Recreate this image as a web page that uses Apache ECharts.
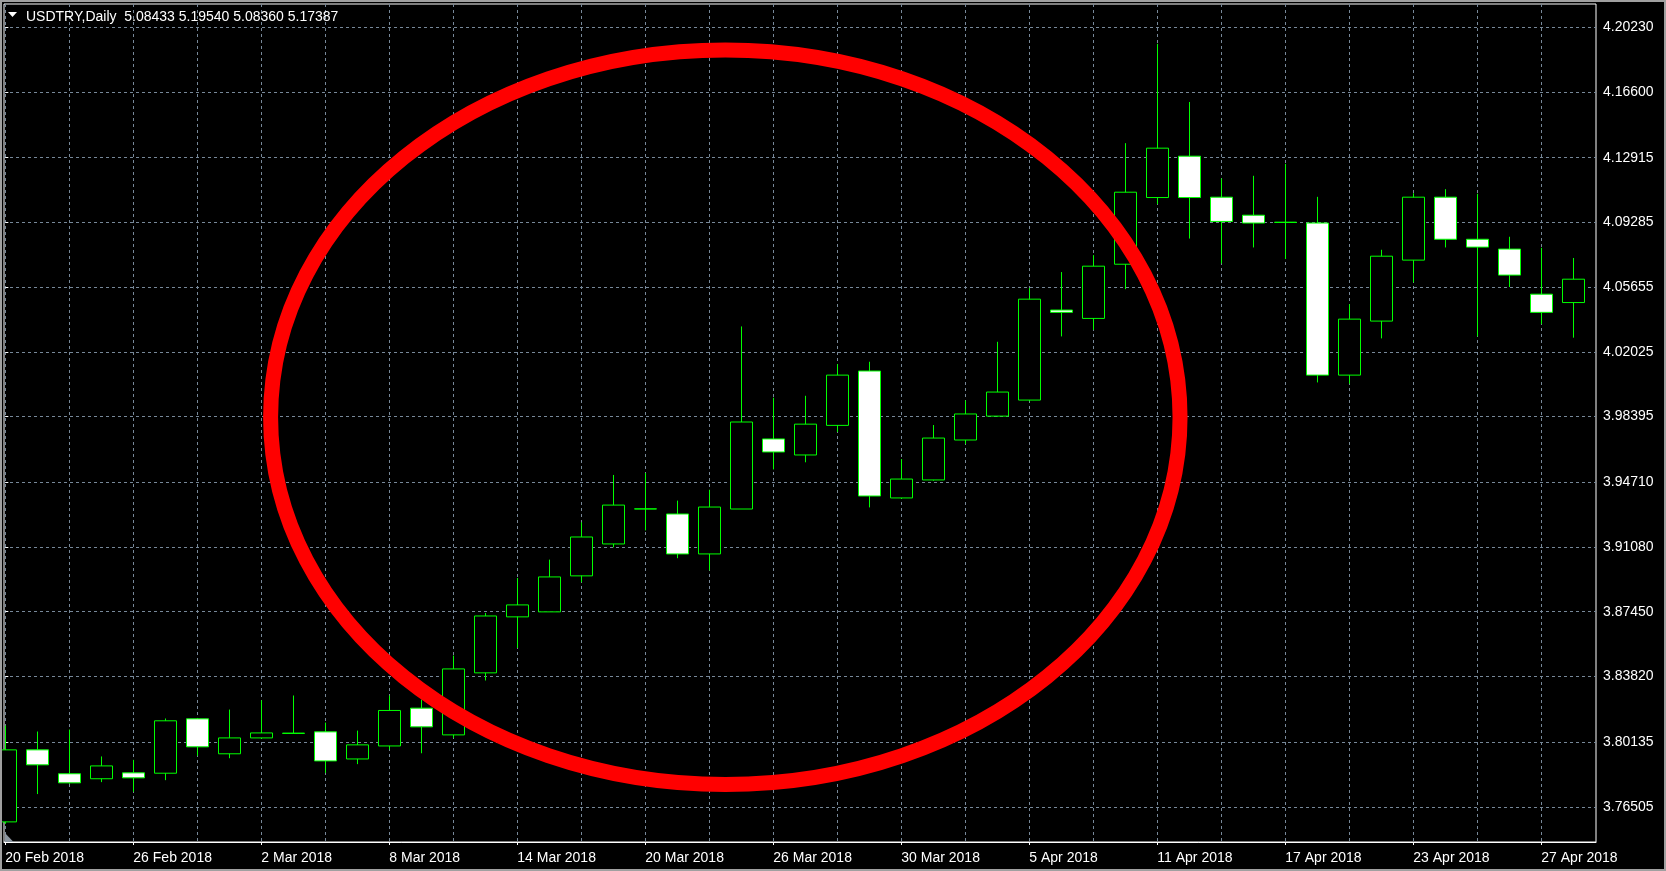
<!DOCTYPE html>
<html>
<head>
<meta charset="utf-8">
<title>USDTRY,Daily</title>
<script src="https://cdn.jsdelivr.net/npm/echarts@6/dist/echarts.min.js"></script>
<style>
html, body { margin: 0; padding: 0; background: #000; }
#chart { width: 1666px; height: 871px; }
</style>
</head>
<body>
<div id="chart"></div>
<script>
// USDTRY 日线, 20 Feb - 30 Apr 2018
const dates = [
  '20 Feb 2018', '21 Feb 2018', '22 Feb 2018', '23 Feb 2018', '26 Feb 2018', '27 Feb 2018', '28 Feb 2018',
  '1 Mar 2018', '2 Mar 2018', '5 Mar 2018', '6 Mar 2018', '7 Mar 2018', '8 Mar 2018', '9 Mar 2018',
  '12 Mar 2018', '13 Mar 2018', '14 Mar 2018', '15 Mar 2018', '16 Mar 2018', '19 Mar 2018', '20 Mar 2018',
  '21 Mar 2018', '22 Mar 2018', '23 Mar 2018', '26 Mar 2018', '27 Mar 2018', '28 Mar 2018', '29 Mar 2018',
  '30 Mar 2018', '2 Apr 2018', '3 Apr 2018', '4 Apr 2018', '5 Apr 2018', '6 Apr 2018', '9 Apr 2018',
  '10 Apr 2018', '11 Apr 2018', '12 Apr 2018', '13 Apr 2018', '16 Apr 2018', '17 Apr 2018', '18 Apr 2018',
  '19 Apr 2018', '20 Apr 2018', '23 Apr 2018', '24 Apr 2018', '25 Apr 2018', '26 Apr 2018', '27 Apr 2018',
  '30 Apr 2018'
];
const opens = [
  3.7566, 3.7970, 3.7836, 3.7808, 3.7841, 3.7839, 3.8144, 3.7948, 3.8037, 3.8062,
  3.8071, 3.7919, 3.7992, 3.8204, 3.8054, 3.8402, 3.8716, 3.8744, 3.8946, 3.9125,
  3.9321, 3.9293, 3.9069, 3.9321, 3.9714, 3.9624, 3.9790, 4.0095, 3.9383, 3.9484,
  3.9708, 3.9842, 3.9932, 4.0437, 4.0390, 4.0694, 4.1068, 4.1300, 4.1070, 4.0969,
  4.0928, 4.0925, 4.0072, 4.0375, 4.0717, 4.1070, 4.0834, 4.0779, 4.0526, 4.0479
];
const closes = [
  3.7970, 3.7886, 3.7785, 3.7880, 3.7813, 3.8133, 3.7987, 3.8037, 3.8065, 3.8064,
  3.7908, 3.7998, 3.8191, 3.8099, 3.8424, 3.8721, 3.8783, 3.8940, 3.9164, 3.9343,
  3.9322, 3.9069, 3.9332, 3.9809, 3.9641, 3.9797, 4.0072, 3.9394, 3.9489, 3.9719,
  3.9854, 3.9977, 4.0498, 4.0424, 4.0683, 4.1098, 4.1345, 4.1068, 4.0934, 4.0925,
  4.0930, 4.0072, 4.0386, 4.0739, 4.1070, 4.0834, 4.0790, 4.0633, 4.0424, 4.0610
];
const lows = [
  3.7555, 3.7722, 3.7780, 3.7789, 3.7735, 3.7800, 3.7937, 3.7923, 3.8032, 3.8061,
  3.7841, 3.7890, 3.7972, 3.7951, 3.8037, 3.8359, 3.8542, 3.8744, 3.8910, 3.9106,
  3.9201, 3.9045, 3.8977, 3.9321, 3.9543, 3.9583, 3.9753, 3.9330, 3.9378, 3.9480,
  3.9686, 3.9838, 3.9925, 4.0289, 4.0326, 4.0554, 4.1031, 4.0838, 4.0698, 4.0788,
  4.0723, 4.0031, 4.0024, 4.0278, 4.0592, 4.0788, 4.0289, 4.0566, 4.0358, 4.0282
];
const highs = [
  3.8106, 3.8073, 3.8084, 3.7933, 3.7914, 3.8146, 3.8149, 3.8196, 3.8248, 3.8275,
  3.8123, 3.8078, 3.8275, 3.8252, 3.8499, 3.8738, 3.8934, 3.9037, 3.9246, 3.9512,
  3.9523, 3.9368, 3.9429, 4.0345, 3.9945, 3.9956, 4.0134, 4.0147, 3.9601, 3.9792,
  3.9930, 4.0259, 4.0560, 4.0650, 4.0745, 4.1373, 4.1930, 4.1604, 4.1175, 4.1190,
  4.1257, 4.1072, 4.0470, 4.0775, 4.1092, 4.1115, 4.1089, 4.0848, 4.0786, 4.0729
];
// 价格刻度
const priceTicks = [3.76505, 3.80135, 3.83820, 3.87450, 3.91080, 3.94710, 3.98395,
  4.02025, 4.05655, 4.09285, 4.12915, 4.16600, 4.20230];
// 竖网格每2根K线, 日期标签每4根
const gridTicks = [0, 2, 4, 6, 8, 10, 12, 14, 16, 18, 20, 22, 24, 26, 28, 30, 32, 34, 36, 38, 40, 42, 44, 46, 48];
const dateTicks = [0, 4, 8, 12, 16, 20, 24, 28, 32, 36, 40, 44, 48];

// 红色椭圆 (数据坐标: 中心 与 半径)
const ellipseCenter = [22.5, 3.9836];
const ellipseRadius = [14.21, 0.2060];

const FONT = 'Liberation Sans';
const xMin = -0.0416, xMax = 49.709;

const candles = dates.map(function (d, i) {
  return [i, opens[i], closes[i], lows[i], highs[i]];
});

const option = {
  backgroundColor: '#000000',
  animation: false,
  title: {
    text: 'USDTRY,Daily  5.08433 5.19540 5.08360 5.17387',
    left: 26,
    top: 10,
    padding: 0,
    textStyle: { color: '#ffffff', fontSize: 14, fontWeight: 'normal', fontFamily: FONT }
  },
  grid: {
    left: 4,
    top: 4,
    width: 1592,
    height: 838,
    show: true,
    borderColor: '#ffffff',
    borderWidth: 1,
    backgroundColor: '#000000'
  },
  xAxis: [
    {
      type: 'value',
      position: 'bottom',
      min: xMin,
      max: xMax,
      axisLine: { show: true, lineStyle: { color: '#ffffff' } },
      axisTick: { show: false, customValues: gridTicks },
      axisLabel: { show: false },
      splitLine: { show: true, lineStyle: { color: '#778899', type: [3, 3], width: 1 } }
    },
    {
      type: 'value',
      position: 'bottom',
      min: xMin,
      max: xMax,
      axisLine: { show: false },
      axisTick: { show: true, customValues: dateTicks, length: 3, lineStyle: { color: '#ffffff' } },
      axisLabel: {
        customValues: dateTicks,
        formatter: function (v) { return dates[Math.round(v)]; },
        align: 'left',
        color: '#ffffff',
        fontSize: 14,
        fontFamily: FONT,
        margin: 9
      },
      splitLine: { show: false }
    }
  ],
  yAxis: {
    type: 'value',
    position: 'right',
    min: 3.74532,
    max: 4.21536,
    axisLine: { show: false },
    axisTick: { show: true, customValues: priceTicks, length: 3, lineStyle: { color: '#ffffff' } },
    axisLabel: {
      customValues: priceTicks,
      formatter: function (v) { return v.toFixed(5); },
      color: '#ffffff',
      fontSize: 14,
      fontFamily: FONT,
      margin: 7,
      padding: [7, 0, 0, 0]
    },
    splitLine: { show: true, lineStyle: { color: '#778899', type: [3, 3], width: 1 } }
  },
  series: [
    {
      type: 'candlestick',
      xAxisIndex: 0,
      yAxisIndex: 0,
      data: candles,
      barWidth: 23,
      itemStyle: {
        color: '#000000',     // 阳线空心
        color0: '#ffffff',    // 阴线白色
        borderColor: '#00ff00',
        borderColor0: '#00ff00',
        borderWidth: 1
      }
    }
  ]
};

const chart = echarts.init(document.getElementById('chart'));
chart.setOption(option);

const c = chart.convertToPixel({ xAxisIndex: 0, yAxisIndex: 0 }, ellipseCenter);
const e = chart.convertToPixel({ xAxisIndex: 0, yAxisIndex: 0 },
  [ellipseCenter[0] + ellipseRadius[0], ellipseCenter[1] + ellipseRadius[1]]);

chart.setOption({
  graphic: [
    {
      type: 'ellipse',
      z: 100,
      shape: { cx: c[0], cy: c[1], rx: Math.abs(e[0] - c[0]), ry: Math.abs(c[1] - e[1]) },
      style: { fill: 'none', stroke: '#ff0000', lineWidth: 15 }
    },
    {
      // 左上角的小三角
      type: 'polygon',
      z: 100,
      shape: { points: [[8, 12], [17, 12], [12.5, 17]] },
      style: { fill: '#ffffff' }
    },
    {
      // 左下角灰色三角
      type: 'polygon',
      z: 100,
      shape: { points: [[5, 833], [5, 842], [13.5, 842]] },
      style: { fill: '#8c96a0' }
    },
    {
      // 窗口外框
      type: 'rect',
      z: 100,
      shape: { x: 1, y: 1, width: 1664, height: 869 },
      style: { fill: 'none', stroke: '#a0a0a0', lineWidth: 2 }
    }
  ]
});

window.addEventListener('resize', function () {
  chart.resize();
});
</script>
</body>
</html>
